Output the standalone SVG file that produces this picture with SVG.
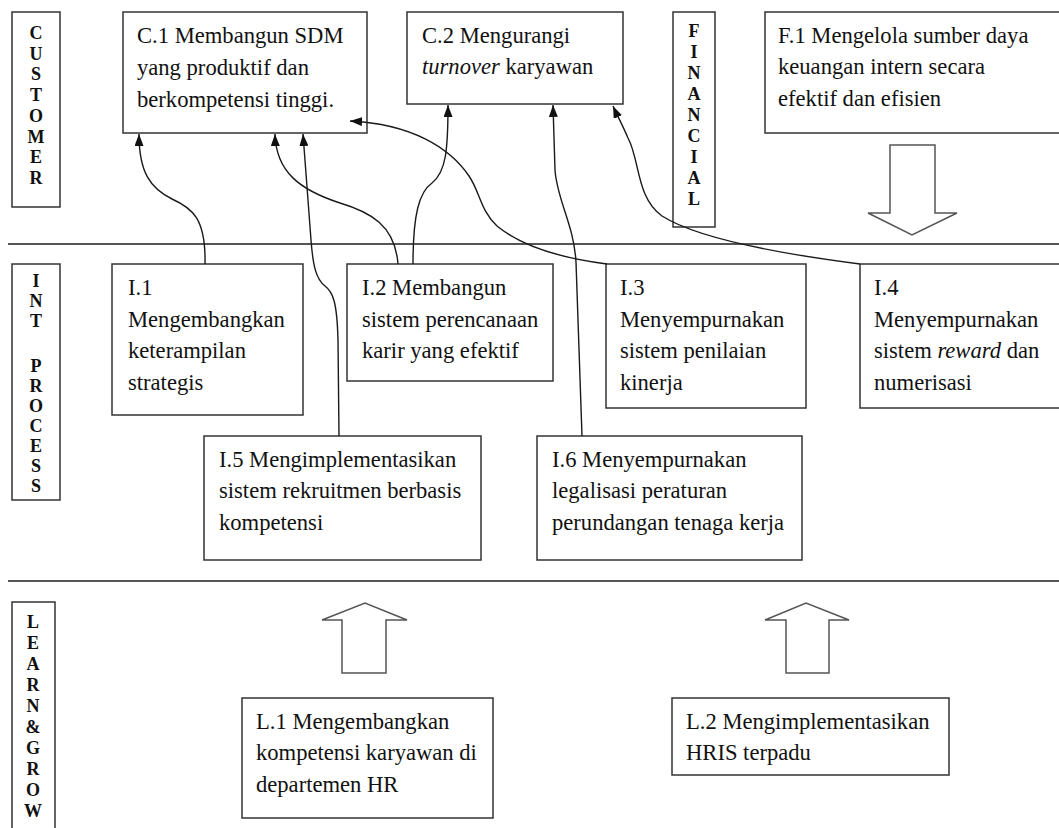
<svg xmlns="http://www.w3.org/2000/svg" width="1059" height="828" viewBox="0 0 1059 828">
<style>
.box{fill:#fff;stroke:#333;stroke-width:1.5}
.lbl{fill:#fff;stroke:#333;stroke-width:1.5}
.t{font-family:"Liberation Serif","Times New Roman",serif;font-size:22.6px;fill:#111}
.v{font-family:"Liberation Serif","Times New Roman",serif;font-size:18px;font-weight:bold;fill:#111;text-anchor:middle}
.sep{stroke:#555;stroke-width:2}
.blk{fill:#fff;stroke:#555;stroke-width:1.5;stroke-linejoin:miter}
.con{fill:none;stroke:#1a1a1a;stroke-width:1.4}
</style>
<defs>
<marker id="ah" viewBox="0 0 12 9" refX="12" refY="4.5" markerWidth="12" markerHeight="9" markerUnits="userSpaceOnUse" orient="auto">
<path d="M0,0 L12,4.5 L0,9 z" fill="#111"/>
</marker>
</defs>
<rect width="1059" height="828" fill="#fff"/>

<g id="separators">
<line class="sep" x1="8" y1="244" x2="1059" y2="244"/>
<line class="sep" x1="8" y1="581" x2="1059" y2="581"/>
</g>

<g id="lbl-customer">
<rect class="lbl" x="12" y="12" width="48" height="195"/>
<text class="v"><tspan x="36" y="39">C</tspan><tspan x="36" y="60">U</tspan><tspan x="36" y="80">S</tspan><tspan x="36" y="101">T</tspan><tspan x="36" y="122">O</tspan><tspan x="36" y="143">M</tspan><tspan x="36" y="163">E</tspan><tspan x="36" y="184">R</tspan></text>
</g>

<g id="lbl-financial">
<rect class="lbl" x="673" y="12" width="42" height="215"/>
<text class="v"><tspan x="694" y="37">F</tspan><tspan x="694" y="58">I</tspan><tspan x="694" y="79">N</tspan><tspan x="694" y="100">A</tspan><tspan x="694" y="121">N</tspan><tspan x="694" y="142">C</tspan><tspan x="694" y="163">I</tspan><tspan x="694" y="184">A</tspan><tspan x="694" y="205">L</tspan></text>
</g>

<g id="lbl-intprocess">
<rect class="lbl" x="12" y="264" width="48" height="236"/>
<text class="v"><tspan x="36" y="287">I</tspan><tspan x="36" y="307">N</tspan><tspan x="36" y="327">T</tspan><tspan x="36" y="372">P</tspan><tspan x="36" y="392">R</tspan><tspan x="36" y="412">O</tspan><tspan x="36" y="432">C</tspan><tspan x="36" y="452">E</tspan><tspan x="36" y="472">S</tspan><tspan x="36" y="492">S</tspan></text>
</g>

<g id="lbl-learngrow">
<rect class="lbl" x="12" y="602" width="43" height="240"/>
<text class="v"><tspan x="33" y="628">L</tspan><tspan x="33" y="649">E</tspan><tspan x="33" y="670">A</tspan><tspan x="33" y="691">R</tspan><tspan x="33" y="712">N</tspan><tspan x="33" y="733">&amp;</tspan><tspan x="33" y="754">G</tspan><tspan x="33" y="775">R</tspan><tspan x="33" y="796">O</tspan><tspan x="33" y="817">W</tspan></text>
</g>

<g id="C1">
<rect class="box" x="123" y="12" width="244" height="121"/>
<text class="t"><tspan x="137" y="43">C.1 Membangun SDM</tspan><tspan x="137" y="75">yang produktif dan</tspan><tspan x="137" y="107">berkompetensi tinggi.</tspan></text>
</g>

<g id="C2">
<rect class="box" x="407" y="12" width="216" height="92"/>
<text class="t"><tspan x="422" y="43">C.2 Mengurangi</tspan><tspan x="422" y="74"><tspan font-style="italic">turnover</tspan> karyawan</tspan></text>
</g>

<g id="F1">
<rect class="box" x="765" y="12" width="310" height="121"/>
<text class="t"><tspan x="778" y="43">F.1 Mengelola sumber daya</tspan><tspan x="778" y="74">keuangan intern secara</tspan><tspan x="778" y="106">efektif dan efisien</tspan></text>
</g>

<g id="F1-arrow">
<polygon class="blk" points="890,145 935,145 935,213 957,213 912,235 868,213 890,213"/>
</g>

<g id="I1">
<rect class="box" x="112" y="264" width="191" height="151"/>
<text class="t"><tspan x="128" y="295">I.1</tspan><tspan x="128" y="327">Mengembangkan</tspan><tspan x="128" y="358">keterampilan</tspan><tspan x="128" y="390">strategis</tspan></text>
</g>

<g id="I2">
<rect class="box" x="347" y="264" width="206" height="117"/>
<text class="t"><tspan x="362" y="295">I.2 Membangun</tspan><tspan x="362" y="327">sistem perencanaan</tspan><tspan x="362" y="358">karir yang efektif</tspan></text>
</g>

<g id="I3">
<rect class="box" x="606" y="264" width="200" height="144"/>
<text class="t"><tspan x="620" y="295">I.3</tspan><tspan x="620" y="327">Menyempurnakan</tspan><tspan x="620" y="358">sistem penilaian</tspan><tspan x="620" y="390">kinerja</tspan></text>
</g>

<g id="I4">
<rect class="box" x="860" y="264" width="210" height="144"/>
<text class="t"><tspan x="874" y="295">I.4</tspan><tspan x="874" y="327">Menyempurnakan</tspan><tspan x="874" y="358">sistem <tspan font-style="italic">reward</tspan> dan</tspan><tspan x="874" y="390">numerisasi</tspan></text>
</g>

<g id="I5">
<rect class="box" x="204" y="436" width="277" height="124"/>
<text class="t"><tspan x="219" y="467">I.5 Mengimplementasikan</tspan><tspan x="219" y="498">sistem rekruitmen berbasis</tspan><tspan x="219" y="530">kompetensi</tspan></text>
</g>

<g id="I6">
<rect class="box" x="537" y="436" width="265" height="124"/>
<text class="t"><tspan x="552" y="467">I.6 Menyempurnakan</tspan><tspan x="552" y="498">legalisasi peraturan</tspan><tspan x="552" y="530">perundangan tenaga kerja</tspan></text>
</g>

<g id="L1-arrow">
<polygon class="blk" points="342,673 386,673 386,620 407,620 365,603 322,620 342,620"/>
</g>
<g id="L2-arrow">
<polygon class="blk" points="786,673 829,673 829,620 849,620 806,603 765,620 786,620"/>
</g>

<g id="L1">
<rect class="box" x="242" y="698" width="251" height="120"/>
<text class="t"><tspan x="256" y="729">L.1 Mengembangkan</tspan><tspan x="256" y="760">kompetensi karyawan di</tspan><tspan x="256" y="792">departemen HR</tspan></text>
</g>

<g id="L2">
<rect class="box" x="672" y="698" width="277" height="77"/>
<text class="t"><tspan x="686" y="729">L.2 Mengimplementasikan</tspan><tspan x="686" y="760">HRIS terpadu</tspan></text>
</g>

<g id="connectors">
<path class="con" marker-end="url(#ah)" d="M205,264 C206,218 192,208 172,199 C150,188 139,172 139,134"/>
<path class="con" marker-end="url(#ah)" d="M398,264 C395,225 370,212 340,203 C300,190 276,172 275,134"/>
<path class="con" marker-end="url(#ah)" d="M413,264 C413,215 419,192 432,183 C446,172 448,150 448,105"/>
<path class="con" marker-end="url(#ah)" d="M607,264 C560,258 520,245 497,226 C480,210 480,192 469,176 C450,148 412,124 350,121"/>
<path class="con" marker-end="url(#ah)" d="M582,436 L576,262 C574,225 557,200 555,170 L553,105"/>
<path class="con" marker-end="url(#ah)" d="M339,436 L338,340 C337,302 333,292 325,286 C316,279 313,266 311,240 L303,134"/>
<path class="con" marker-end="url(#ah)" d="M860,264 C790,255 700,240 662,216 C636,197 640,160 628,138 C622,124 617,115 613,106"/>
</g>
</svg>
